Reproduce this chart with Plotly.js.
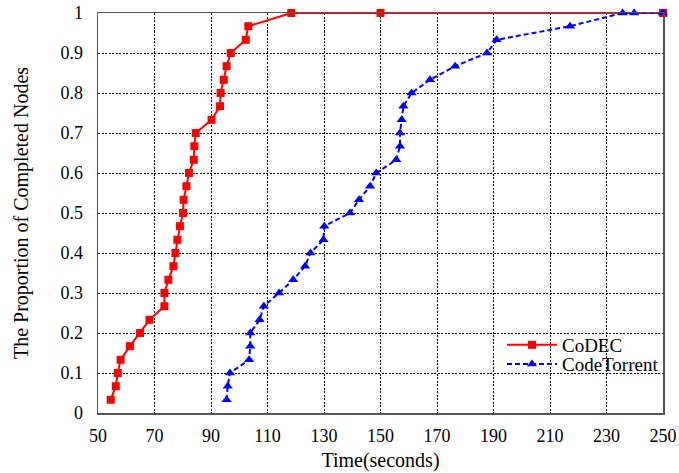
<!DOCTYPE html>
<html><head><meta charset="utf-8">
<script src="https://cdn.plot.ly/plotly-3.0.1.min.js"></script>
<style>html,body{margin:0;padding:0;background:#fff}</style>
</head><body>
<div id="chart" style="width:679px;height:473px"></div>
<script>
const codecTime = [54.5, 56.3, 57, 58, 61.3, 64.9, 68.2, 73.5, 73.5, 74.9, 76.7, 77.4, 78.1, 79, 80.1, 80.3, 81.3, 82.2, 83.9, 84.1, 84.6, 90.2, 93.2, 93.4, 94.5, 95.5, 97, 102.3, 103.2, 118.4, 150, 250];
const codecProp = [0.033, 0.067, 0.1, 0.133, 0.167, 0.2, 0.233, 0.267, 0.3, 0.333, 0.367, 0.4, 0.433, 0.467, 0.5, 0.533, 0.567, 0.6, 0.633, 0.667, 0.7, 0.733, 0.767, 0.8, 0.833, 0.867, 0.9, 0.933, 0.967, 1, 1, 1];
const torrentTime = [95.5, 95.9, 96.7, 103.5, 103.9, 103.9, 107.2, 108.7, 114.1, 119.1, 123.3, 125.2, 129.8, 130.1, 139.2, 142.4, 146.3, 148.5, 155.6, 156.9, 156.9, 157.5, 158.1, 161, 167.5, 176.4, 187.7, 191.1, 217.1, 235.7, 239.8, 250];
const torrentProp = [0.033, 0.067, 0.1, 0.133, 0.167, 0.2, 0.233, 0.267, 0.3, 0.333, 0.367, 0.4, 0.433, 0.467, 0.5, 0.533, 0.567, 0.6, 0.633, 0.667, 0.7, 0.733, 0.767, 0.8, 0.833, 0.867, 0.9, 0.933, 0.967, 1, 1, 1];
const xTicks = [50, 70, 90, 110, 130, 150, 170, 190, 210, 230, 250];
const yTicks = [0, 0.1, 0.2, 0.3, 0.4, 0.5, 0.6, 0.7, 0.8, 0.9, 1];
const yTickText = ['0', '0.1', '0.2', '0.3', '0.4', '0.5', '0.6', '0.7', '0.8', '0.9', '1'];
const seriesNames = ['CoDEC', 'CodeTorrent'];

const font = 'Liberation Serif, Times New Roman, serif';
const traces = [
  {x: codecTime, y: codecProp, name: seriesNames[0], mode: 'lines+markers', cliponaxis: false,
   legend: 'legend',
   line: {color: '#ff0000', width: 2},
   marker: {symbol: 'square', size: 8, color: '#ff0000'}},
  {x: torrentTime, y: torrentProp, name: seriesNames[1], mode: 'lines+markers', cliponaxis: false,
   legend: 'legend2',
   line: {color: '#0000ff', width: 2, dash: '5px,3px'},
   marker: {symbol: 'triangle-up', size: 9, color: '#0000ff'}}
];
const axisCommon = {
  showgrid: true, gridcolor: '#000', griddash: '2px,1.5px', gridwidth: 1,
  showline: true, linecolor: '#555', linewidth: 1.5, mirror: true,
  zeroline: false, ticks: '', tickfont: {family: font, size: 18, color: '#000'}
};
const legendCommon = {xanchor: 'left', yanchor: 'middle', bgcolor: 'rgba(255,255,255,0)',
  font: {family: font, size: 19}, itemwidth: 50};
const layout = {
  width: 679, height: 473,
  margin: {l: 98, r: 16, t: 13, b: 60},
  paper_bgcolor: '#fff', plot_bgcolor: '#fff',
  font: {family: font, color: '#000'},
  xaxis: Object.assign({}, axisCommon, {
    range: [50, 250], tickvals: xTicks, ticklabelstandoff: 6,
    title: {text: 'Time(seconds)', font: {family: font, size: 20}, standoff: 8}
  }),
  yaxis: Object.assign({}, axisCommon, {
    range: [0, 1], tickvals: yTicks, ticktext: yTickText, ticklabelstandoff: 10,
    title: {text: 'The Proportion of Completed Nodes', font: {family: font, size: 20}, standoff: 26}
  }),
  showlegend: true,
  legend: Object.assign({}, legendCommon, {x: 0.715, y: 0.17}),
  legend2: Object.assign({}, legendCommon, {x: 0.715, y: 0.122})
};
Plotly.newPlot('chart', traces, layout, {displayModeBar: false, staticPlot: true});
</script>
</body></html>
